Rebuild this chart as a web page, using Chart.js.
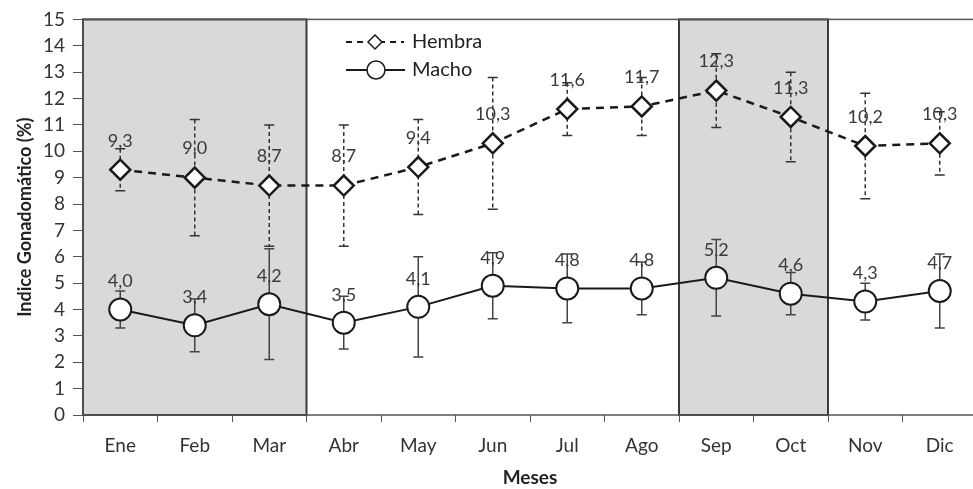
<!DOCTYPE html>
<html>
<head>
<meta charset="utf-8">
<script src="https://cdn.jsdelivr.net/npm/chart.js@4.4.1/dist/chart.umd.min.js"></script>
<style>
  html, body { margin: 0; padding: 0; background: #fff; overflow: hidden; }
  #wrap { width: 990px; height: 489px; }
</style>
</head>
<body>
<div id="wrap"><canvas id="igs" width="990" height="489"></canvas></div>
<script>
const months = ['Ene', 'Feb', 'Mar', 'Abr', 'May', 'Jun', 'Jul', 'Ago', 'Sep', 'Oct', 'Nov', 'Dic']
const hembra = [9.3, 9.0, 8.7, 8.7, 9.4, 10.3, 11.6, 11.7, 12.3, 11.3, 10.2, 10.3]
const hembraErr = [0.8, 2.2, 2.3, 2.3, 1.8, 2.5, 1.0, 1.1, 1.4, 1.7, 2.0, 1.2]
const macho = [4.0, 3.4, 4.2, 3.5, 4.1, 4.9, 4.8, 4.8, 5.2, 4.6, 4.3, 4.7]
const machoErr = [0.7, 1.0, 2.1, 1.0, 1.9, 1.25, 1.3, 1.0, 1.45, 0.8, 0.7, 1.4]
const shaded = [['Ene', 'Mar'], ['Sep', 'Oct']]

const FONT = 'Lato, "Liberation Sans", sans-serif'
const fmt = v => v.toFixed(1).replace('.', ',')

const drawMarker = (ctx, kind, x, y, r, lw) => {
  ctx.save()
  ctx.beginPath()
  if (kind === 'diamond') {
    ctx.moveTo(x, y - r)
    ctx.lineTo(x + r, y)
    ctx.lineTo(x, y + r)
    ctx.lineTo(x - r, y)
    ctx.closePath()
  } else {
    ctx.arc(x, y, r, 0, Math.PI * 2)
  }
  ctx.fillStyle = '#fff'
  ctx.fill()
  ctx.lineWidth = lw
  ctx.strokeStyle = '#1a1a1a'
  ctx.stroke()
  ctx.restore()
}

const extras = {
  id: 'extras',
  beforeDatasetsDraw(chart) {
    const { ctx, chartArea: a, scales: { x, y } } = chart
    const half = (x.getPixelForValue(1) - x.getPixelForValue(0)) / 2

    // grey season bands
    shaded.forEach(([from, to]) => {
      const x0 = x.getPixelForValue(months.indexOf(from)) - half
      const x1 = x.getPixelForValue(months.indexOf(to)) + half
      ctx.save()
      ctx.fillStyle = '#d9d9d9'
      ctx.fillRect(x0, a.top, x1 - x0, a.bottom - a.top)
      ctx.strokeStyle = '#3a3a3a'
      ctx.lineWidth = 2
      ctx.strokeRect(x0, a.top, x1 - x0, a.bottom - a.top)
      ctx.restore()
    })

    // plot frame
    ctx.save()
    ctx.strokeStyle = '#555'
    ctx.lineWidth = 1.5
    ctx.strokeRect(a.left, a.top, a.right - a.left, a.bottom - a.top)
    ctx.restore()

    // error bars
    const bars = (vals, errs, dash, color) => {
      ctx.save()
      ctx.strokeStyle = color
      ctx.lineWidth = 1.5
      vals.forEach((v, i) => {
        const px = x.getPixelForValue(i)
        const top = y.getPixelForValue(v + errs[i])
        const bot = y.getPixelForValue(v - errs[i])
        ctx.setLineDash(dash)
        ctx.beginPath()
        ctx.moveTo(px, top)
        ctx.lineTo(px, bot)
        ctx.stroke()
        ctx.setLineDash([])
        ctx.beginPath()
        ctx.moveTo(px - 5, top)
        ctx.lineTo(px + 5, top)
        ctx.moveTo(px - 5, bot)
        ctx.lineTo(px + 5, bot)
        ctx.stroke()
      })
      ctx.restore()
    }
    bars(hembra, hembraErr, [4, 3], '#333')
    bars(macho, machoErr, [], '#444')
  },
  afterDatasetsDraw(chart) {
    const { ctx, scales: { x, y } } = chart

    // value labels
    ctx.save()
    ctx.font = '18px ' + FONT
    ctx.fillStyle = '#3a3a3a'
    ctx.textAlign = 'center'
    ctx.textBaseline = 'middle'
    hembra.forEach((v, i) => ctx.fillText(fmt(v), x.getPixelForValue(i), y.getPixelForValue(v) - 29))
    macho.forEach((v, i) => ctx.fillText(fmt(v), x.getPixelForValue(i), y.getPixelForValue(v) - 28))
    ctx.restore()

    // legend inside plot
    ctx.save()
    ctx.strokeStyle = '#1a1a1a'
    ctx.lineWidth = 2
    ctx.setLineDash([6, 5])
    ctx.beginPath()
    ctx.moveTo(346, 42)
    ctx.lineTo(404, 42)
    ctx.stroke()
    ctx.setLineDash([])
    ctx.beginPath()
    ctx.moveTo(346, 70)
    ctx.lineTo(405, 70)
    ctx.stroke()
    ctx.restore()
    drawMarker(ctx, 'diamond', 375, 42, 7, 1.5)
    drawMarker(ctx, 'circle', 376, 70, 9, 1.5)
    ctx.save()
    ctx.font = '20px ' + FONT
    ctx.fillStyle = '#222'
    ctx.textBaseline = 'middle'
    ctx.fillText('Hembra', 412, 42)
    ctx.fillText('Macho', 412, 70)
    ctx.restore()
  },
}

new Chart(document.getElementById('igs'), {
  type: 'line',
  data: {
    labels: months,
    datasets: [
      {
        label: 'Hembra',
        data: hembra,
        borderColor: '#1a1a1a',
        borderWidth: 2.5,
        borderDash: [8, 6],
        pointStyle: 'rectRot',
        pointRadius: 10,
        pointBorderWidth: 2.5,
        pointBackgroundColor: '#fff',
        pointBorderColor: '#1a1a1a',
        tension: 0,
      },
      {
        label: 'Macho',
        data: macho,
        borderColor: '#1a1a1a',
        borderWidth: 2,
        pointStyle: 'circle',
        pointRadius: 11,
        pointBorderWidth: 2,
        pointBackgroundColor: '#fff',
        pointBorderColor: '#1a1a1a',
        tension: 0,
      },
    ],
  },
  options: {
    responsive: false,
    animation: false,
    layout: { padding: { top: 19, right: 7, left: 0, bottom: 0 } },
    plugins: {
      legend: { display: false },
      tooltip: { enabled: false },
    },
    scales: {
      x: {
        offset: true,
        afterFit: s => { s.height = 74 },
        grid: { offset: true, drawOnChartArea: false, tickLength: 7, color: '#555' },
        border: { display: false },
        ticks: { padding: 12, color: '#333', font: { family: FONT, size: 19 } },
        title: {
          display: true,
          text: 'Meses',
          color: '#222',
          font: { family: FONT, size: 19, weight: 'bold' },
          padding: { top: 2, bottom: 0 },
        },
      },
      y: {
        min: 0,
        max: 15,
        afterFit: s => { s.width = 83 },
        grid: { drawOnChartArea: false, tickLength: 10, color: '#555' },
        border: { display: false },
        ticks: { stepSize: 1, padding: 8, color: '#333', font: { family: FONT, size: 19 } },
        title: {
          display: true,
          text: 'Indice Gonadomático (%)',
          color: '#222',
          font: { family: FONT, size: 18, weight: 'bold' },
          padding: { top: 14, bottom: 6 },
        },
      },
    },
  },
  plugins: [extras],
})
</script>
</body>
</html>
